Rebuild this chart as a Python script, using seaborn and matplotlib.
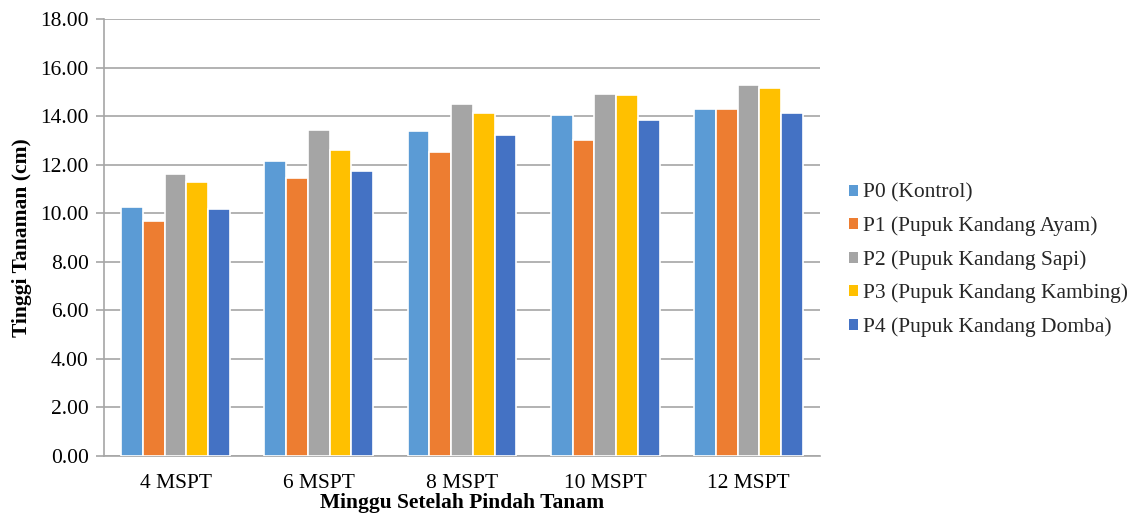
import matplotlib
matplotlib.use("Agg")
import matplotlib.pyplot as plt
import seaborn as sns
import pandas as pd
from matplotlib.ticker import FormatStrFormatter, MultipleLocator

categories = ["4 MSPT", "6 MSPT", "8 MSPT", "10 MSPT", "12 MSPT"]
series_names = [
    "P0 (Kontrol)",
    "P1 (Pupuk Kandang Ayam)",
    "P2 (Pupuk Kandang Sapi)",
    "P3 (Pupuk Kandang Kambing)",
    "P4 (Pupuk Kandang Domba)",
]
p0 = [10.25, 12.14, 13.40, 14.04, 14.30]
p1 = [9.66, 11.45, 12.53, 13.00, 14.30]
p2 = [11.62, 13.42, 14.51, 14.91, 15.30]
p3 = [11.30, 12.59, 14.11, 14.88, 15.14]
p4 = [10.16, 11.72, 13.21, 13.83, 14.14]
colors = ["#5B9BD5", "#ED7D31", "#A5A5A5", "#FFC000", "#4472C4"]

rows = []
for name, vals in zip(series_names, [p0, p1, p2, p3, p4]):
    for c, v in zip(categories, vals):
        rows.append({"Minggu": c, "Perlakuan": name, "Tinggi": v})
df = pd.DataFrame(rows)

sns.set_theme(style="white")
plt.rcParams["font.family"] = ["Liberation Serif", "DejaVu Serif"]

fig = plt.figure(figsize=(11.32, 5.18), dpi=100)
ax = fig.add_axes([104 / 1132, 1 - 456 / 518, 716 / 1132, 437 / 518])

sns.barplot(data=df, x="Minggu", y="Tinggi", hue="Perlakuan",
            order=categories, hue_order=series_names, palette=colors,
            width=0.76, edgecolor="white", linewidth=1.2, saturation=1,
            errorbar=None, ax=ax, zorder=3)

ax.set_ylim(0, 18)
ax.yaxis.set_major_locator(MultipleLocator(2))
ax.yaxis.set_major_formatter(FormatStrFormatter("%.2f"))
ax.grid(axis="y", color="#A6A6A6", linewidth=1.2, zorder=0)
ax.set_axisbelow(True)
for s in ["top", "right"]:
    ax.spines[s].set_visible(False)
ax.spines["left"].set_color("#A6A6A6")
ax.spines["bottom"].set_color("#A6A6A6")
ax.spines["left"].set_linewidth(1.2)
ax.spines["bottom"].set_linewidth(1.2)
ax.tick_params(axis="y", which="major", left=True, length=6, width=1.2,
               color="#A6A6A6", labelsize=15.5, labelcolor="black", pad=5)
ax.tick_params(axis="x", bottom=False, labelsize=15.5, labelcolor="black", pad=7)

ax.set_xlabel("Minggu Setelah Pindah Tanam", fontsize=15.5, fontweight="bold",
              color="black", labelpad=0)
ax.set_ylabel("Tinggi Tanaman (cm)", fontsize=15.5, fontweight="bold",
              color="black", labelpad=6)

leg = ax.legend(loc="center left", bbox_to_anchor=(1.013, 0.448), frameon=False,
                fontsize=15.5, handlelength=0.42, handleheight=0.42,
                handletextpad=0.25, labelspacing=0.64)
for h in leg.legend_handles:
    h.set_edgecolor("none")

fig.savefig("out.png", dpi=100)
